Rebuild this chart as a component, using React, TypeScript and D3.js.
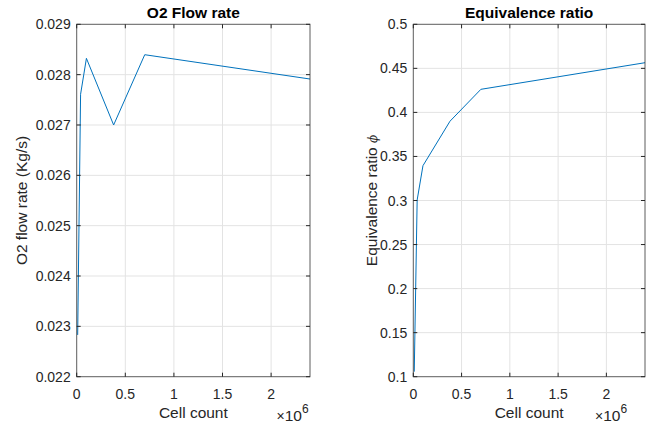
import React from "react";
import * as d3 from "d3";

// Mesh sizes (cell count) shared by both panels
const cellCounts = [10000, 40000, 100000, 380000, 700000, 2400000];
// O2 mass flow rate (kg/s) at each mesh size
const o2Flow = [0.02283, 0.02761, 0.028324, 0.027, 0.028396, 0.027913];
// Equivalence ratio at each mesh size
const phiValues = [0.1057, 0.3006, 0.3395, 0.39, 0.4262, 0.4564];

const xTicks = [0, 500000, 1000000, 1500000, 2000000];
const o2Ticks = [0.022, 0.023, 0.024, 0.025, 0.026, 0.027, 0.028, 0.029];
const phiTicks = [0.1, 0.15, 0.2, 0.25, 0.3, 0.35, 0.4, 0.45, 0.5];

const W = 646;
const H = 425;
const TOP = 24.3;
const BOTTOM = 376.7;
const FONT = "'Liberation Sans', Arial, Helvetica, sans-serif";
const AX = "#262626";
const GRID = "#e3e3e3";
const LINE = "#0072bd";
const TICK = 4;

type PanelProps = {
  x0: number;
  x1: number;
  title: string;
  ylabel: React.ReactNode;
  ylabelX: number;
  values: number[];
  yDomain: [number, number];
  yTicks: number[];
  yFormat: (v: number) => string;
  expX: number;
};

function Panel(p: PanelProps) {
  const x = d3.scaleLinear().domain([0, 2400000]).range([p.x0, p.x1]);
  const y = d3.scaleLinear().domain(p.yDomain).range([BOTTOM, TOP]);
  const line = d3
    .line<number>()
    .x((_, i) => x(cellCounts[i]))
    .y((d) => y(d));
  const xFmt = (v: number) => d3.format("~g")(v / 1e6);
  const cx = (p.x0 + p.x1) / 2;
  return (
    <g fontFamily={FONT}>
      {/* grid */}
      {xTicks.slice(1).map((t) => (
        <line key={"gx" + t} x1={x(t)} x2={x(t)} y1={TOP} y2={BOTTOM} stroke={GRID} strokeWidth={1} />
      ))}
      {p.yTicks.slice(1, -1).map((t) => (
        <line key={"gy" + t} x1={p.x0} x2={p.x1} y1={y(t)} y2={y(t)} stroke={GRID} strokeWidth={1} />
      ))}
      {/* data */}
      <path d={line(p.values) ?? ""} fill="none" stroke={LINE} strokeWidth={1} />
      {/* box */}
      <rect x={p.x0} y={TOP} width={p.x1 - p.x0} height={BOTTOM - TOP} fill="none" stroke={AX} strokeOpacity={0.75} strokeWidth={1} />
      {/* x ticks */}
      {xTicks.map((t) => (
        <g key={"xt" + t}>
          <line x1={x(t)} x2={x(t)} y1={BOTTOM} y2={BOTTOM - TICK} stroke={AX} />
          <line x1={x(t)} x2={x(t)} y1={TOP} y2={TOP + TICK} stroke={AX} />
          <text x={x(t)} y={399} textAnchor="middle" fontSize={14} fill={AX}>
            {xFmt(t)}
          </text>
        </g>
      ))}
      {/* y ticks */}
      {p.yTicks.map((t) => (
        <g key={"yt" + t}>
          <line x1={p.x0} x2={p.x0 + TICK} y1={y(t)} y2={y(t)} stroke={AX} />
          <line x1={p.x1} x2={p.x1 - TICK} y1={y(t)} y2={y(t)} stroke={AX} />
          <text x={p.x0 - 6} y={y(t) + 5} textAnchor="end" fontSize={14} fill={AX}>
            {p.yFormat(t)}
          </text>
        </g>
      ))}
      {/* title */}
      <text x={cx} y={18} textAnchor="middle" fontSize={15.5} fontWeight="bold" fill="#000">
        {p.title}
      </text>
      {/* x label */}
      <text x={cx} y={418} textAnchor="middle" fontSize={15.5} fill={AX}>
        Cell count
      </text>
      <text x={p.expX} y={421} fontSize={15.5} fill={AX}>
        <tspan fontSize={14}>×</tspan>10
        <tspan dy={-8} fontSize={12}>6</tspan>
      </text>
      {/* y label */}
      <text
        transform={`translate(${p.ylabelX},${(TOP + BOTTOM) / 2}) rotate(-90)`}
        textAnchor="middle"
        fontSize={15.5}
        fill={AX}
      >
        {p.ylabel}
      </text>
    </g>
  );
}

export default function App() {
  return (
    <svg
      width={W}
      height={H}
      style={{ position: "absolute", left: 0, top: 0, background: "#fff" }}
    >
      <rect width={W} height={H} fill="#fff" />
      <Panel
        x0={76.7}
        x1={310}
        title="O2 Flow rate"
        ylabel="O2 flow rate (Kg/s)"
        ylabelX={26.5}
        values={o2Flow}
        yDomain={[0.022, 0.029]}
        yTicks={o2Ticks}
        yFormat={d3.format(".3f")}
        expX={276.5}
      />
      <Panel
        x0={413.3}
        x1={645}
        title="Equivalence ratio"
        ylabel={
          <>
            Equivalence ratio{" "}
            <tspan fontFamily="'DejaVu Serif', serif" fontStyle="italic" fontSize={12}>
              ϕ
            </tspan>
          </>
        }
        ylabelX={377}
        values={phiValues}
        yDomain={[0.1, 0.5]}
        yTicks={phiTicks}
        yFormat={d3.format(".2~f")}
        expX={595}
      />
    </svg>
  );
}
